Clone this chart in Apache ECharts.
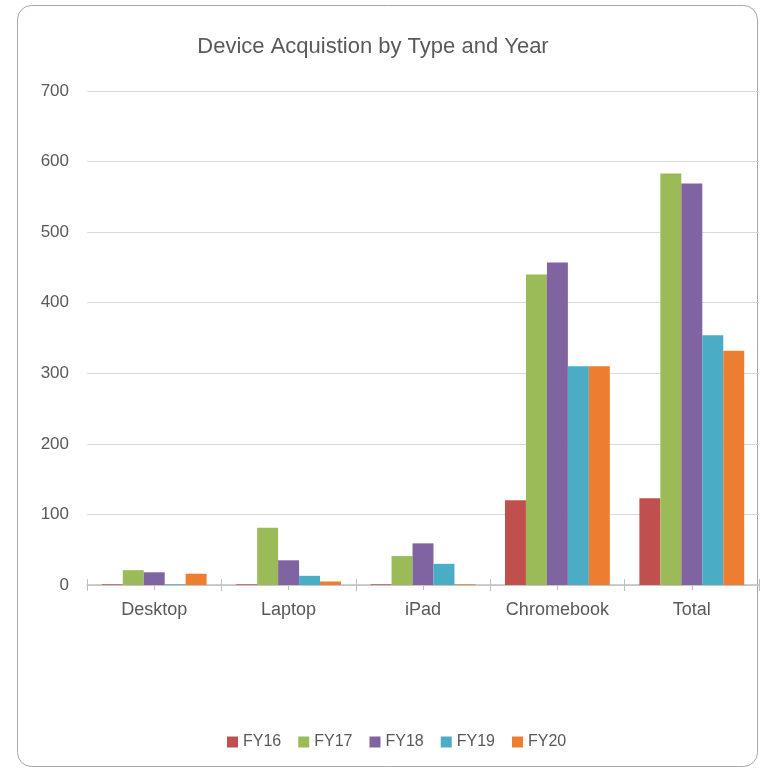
<!DOCTYPE html>
<html>
<head>
<meta charset="utf-8">
<script src="https://cdn.jsdelivr.net/npm/echarts@6/dist/echarts.min.js"></script>
<style>
  html, body { margin: 0; padding: 0; background: #fff; }
  #chart { width: 761px; height: 768px; }
</style>
</head>
<body>
<div id="chart"></div>
<script>
const categories = ['Desktop', 'Laptop', 'iPad', 'Chromebook', 'Total']
const seriesNames = ['FY16', 'FY17', 'FY18', 'FY19', 'FY20']
const fy16 = [1, 1, 1, 120, 123]
const fy17 = [21, 81, 41, 440, 583]
const fy18 = [18, 35, 59, 457, 569]
const fy19 = [1, 13, 30, 310, 354]
const fy20 = [16, 5, 1, 310, 332]
const yTicks = [0, 100, 200, 300, 400, 500, 600, 700]

const COLORS = ['#C0504D', '#9BBB59', '#8064A2', '#4BACC6', '#ED7D31']
const TEXT = '#595959'
const AXIS = '#bfbfbf'
const FONT = '"Liberation Sans", Arial, sans-serif'

const chart = echarts.init(document.getElementById('chart'))
const values = [fy16, fy17, fy18, fy19, fy20]

// extra category axes only draw tick marks (Excel style crossing + centre ticks)
const tickAxis = (inside, align, len) => ({
  type: 'category', data: categories, position: 'bottom',
  axisLine: { show: false },
  axisLabel: { show: false },
  axisTick: { show: true, interval: 0, inside, alignWithLabel: align, length: len, lineStyle: { color: AXIS } },
})

chart.setOption({
  animation: false,
  color: COLORS,
  textStyle: { fontFamily: FONT },
  graphic: [{
    type: 'rect', left: 17, top: 5, silent: true, z: -10,
    shape: { width: 740, height: 761, r: 14 },
    style: { fill: '#fff', stroke: '#a6a6a6', lineWidth: 1 },
  }],
  title: {
    text: 'Device Acquistion by Type and Year',
    left: 368, top: 31, textAlign: 'center',
    textStyle: { color: TEXT, fontSize: 22, fontWeight: 'normal', fontFamily: FONT },
  },
  legend: {
    data: seriesNames, top: 734, left: 227, padding: 0,
    itemWidth: 11, itemHeight: 11, itemGap: 17,
    icon: 'rect',
    textStyle: { color: TEXT, fontSize: 16, fontFamily: FONT },
  },
  grid: { left: 87, right: 2, top: 91, bottom: 183 },
  xAxis: [{
    type: 'category', data: categories,
    axisLine: { lineStyle: { color: AXIS, width: 1.5 } },
    axisTick: { show: true, interval: 0, length: 6, lineStyle: { color: AXIS } },
    axisLabel: { color: TEXT, fontSize: 18, margin: 16, fontFamily: FONT },
  },
  tickAxis(true, false, 6),
  tickAxis(false, true, 5)],
  yAxis: {
    type: 'value', min: 0, max: 700, interval: 100,
    axisLine: { show: false }, axisTick: { show: false },
    axisLabel: {
      color: TEXT, fontSize: 17, margin: 18, fontFamily: FONT,
      formatter: v => yTicks.includes(v) ? String(v) : '',
    },
    splitLine: { lineStyle: { color: '#d9d9d9' } },
  },
  series: seriesNames.map((name, i) => ({
    name, type: 'bar', data: values[i], xAxisIndex: 0,
    barGap: '0%', barCategoryGap: '22%',
    itemStyle: { color: COLORS[i] },
  })),
})
</script>
</body>
</html>
